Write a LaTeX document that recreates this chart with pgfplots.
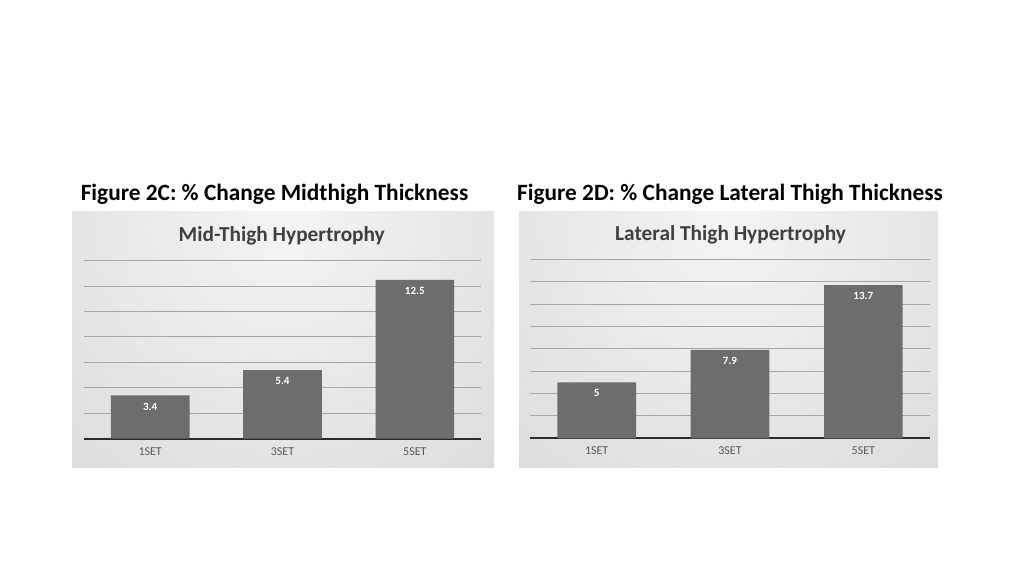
\documentclass[border=0pt]{standalone}
\usepackage{pgfplots}
\pgfplotsset{compat=1.18}
\usepackage{fontspec}
\setmainfont{Carlito}
\definecolor{barc}{HTML}{6D6D6D}
\definecolor{gridc}{HTML}{A6A6A6}
\definecolor{basec}{HTML}{2B2B2B}
\definecolor{titlec}{HTML}{404040}
\definecolor{catc}{HTML}{595959}
\definecolor{bgin}{HTML}{F4F4F4}
\definecolor{bgout}{HTML}{C6C6C6}
\pgfplotsset{
  panel/.style={
    scale only axis,
    ybar, bar width=59pt,
    xmin=-0.5, xmax=2.5, ymin=0,
    xtick={0,1,2}, xticklabels={1SET,3SET,5SET},
    axis x line*=bottom, axis y line*=left,
    y axis line style={draw=none},
    x axis line style={draw=basec, line width=1.5pt},
    major tick length=0pt,
    yticklabels={},
    ymajorgrids, grid style={draw=gridc, line width=0.75pt},
    xticklabel style={font=\fontsize{9}{10}\selectfont, text=catc, yshift=-3pt},
    nodes near coords,
    nodes near coords style={font=\bfseries\fontsize{8.3}{9}\selectfont, text=white, anchor=center, yshift=-8.25pt},
    /pgf/number format/assume math mode=true,
    clip=false,
  },
}
\begin{document}
\begin{tikzpicture}
\fill[white] (0,0) rectangle (768pt,432pt);
\begin{scope}
\clip (54pt,81.75pt) rectangle (370.5pt,273.75pt);
\shade[inner color=bgin, outer color=bgout] (212.25pt,262pt) circle (480pt);
\end{scope}
\begin{scope}
\clip (389.25pt,81.75pt) rectangle (703.5pt,273.75pt);
\shade[inner color=bgin, outer color=bgout] (546.4pt,262pt) circle (480pt);
\end{scope}
\begin{axis}[panel, at={(63pt,102.98pt)}, anchor=south west,
  width=297.75pt, height=133.5pt, ymax=14, ytick={2,4,...,14}]
\addplot[fill=barc, draw=none] coordinates {(0,3.4) (1,5.4) (2,12.5)};
\end{axis}
\begin{axis}[panel, at={(397.5pt,103.28pt)}, anchor=south west,
  width=300pt, height=134.25pt, ymax=16, ytick={2,4,...,16}]
\addplot[fill=barc, draw=none] coordinates {(0,5) (1,7.9) (2,13.7)};
\end{axis}
\node[anchor=base, font=\bfseries\fontsize{17.5}{20}\selectfont] at (205.9pt,282pt) {Figure 2C: \% Change Midthigh Thickness};
\node[anchor=base, font=\bfseries\fontsize{17.5}{20}\selectfont] at (547.5pt,282pt) {Figure 2D: \% Change Lateral Thigh Thickness};
\node[anchor=base, text=titlec, font=\bfseries\fontsize{16}{19}\selectfont] at (211.3pt,250.7pt) {Mid-Thigh Hypertrophy};
\node[anchor=base, text=titlec, font=\bfseries\fontsize{16}{19}\selectfont] at (547.9pt,252pt) {Lateral Thigh Hypertrophy};
\end{tikzpicture}
\end{document}
